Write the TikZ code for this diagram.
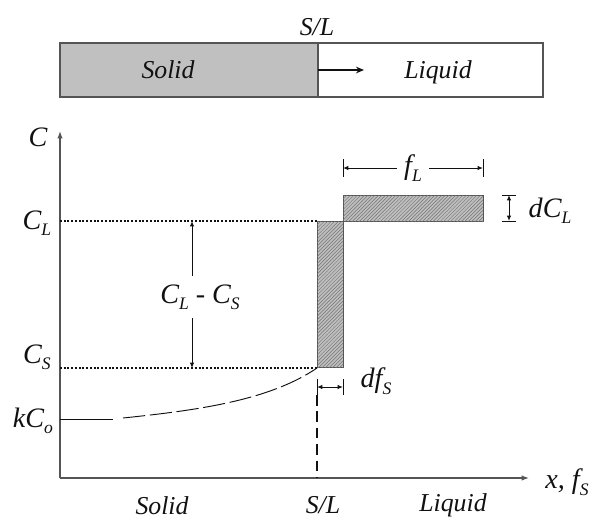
\documentclass[tikz,border=0pt]{standalone}
\usepackage{fontspec}
\setmainfont{Liberation Serif}[ItalicFont=Liberation Serif Italic]
\usetikzlibrary{arrows.meta,patterns,positioning}
\definecolor{ink}{HTML}{111111}
\definecolor{axisgray}{HTML}{555555}
\definecolor{solidgray}{HTML}{C0C0C0}
\tikzset{
  every node/.style={font=\rmfamily\itshape\fontsize{22}{24}\selectfont,text=ink,inner sep=0pt},
  sym/.style={font=\rmfamily\itshape\fontsize{24}{26}\selectfont},
  barline/.style={draw=axisgray,line width=.9pt},
  front/.style={-{Stealth[length=2.4mm,width=2mm]},line width=1.4pt,draw=ink},
  axis/.style={-{Latex[length=2.2mm,width=1.6mm]},line width=1.1pt,draw=axisgray},
  guide/.style={dash pattern=on 1.6pt off 1.6pt,line width=.9pt,draw=ink},
  dimarrow/.style={{Latex[length=1.6mm,width=1.3mm]}-{Latex[length=1.6mm,width=1.3mm]},line width=.8pt,draw=ink},
  onearrow/.style={-{Latex[length=1.6mm,width=1.3mm]},line width=.8pt,draw=ink},
  tickline/.style={line width=.8pt,draw=ink},
  hatch/.style={draw=axisgray,line width=.7pt,fill=black!25,postaction={pattern=north east lines,pattern color=black!55}},
  interface/.style={dash pattern=on 9pt off 5pt,line width=1.4pt,draw=ink},
  profile/.style={line width=.8pt,draw=ink},
}
\newcommand{\lo}[1]{\raisebox{-.5ex}{\fontsize{15}{16}\selectfont #1}}

\begin{document}
\begin{tikzpicture}[x=0.03cm,y=-0.03cm]
\path[use as bounding box,fill=white] (0,0) rectangle (592,521);
% sample bar with moving front
\draw[barline,fill=solidgray] (60,43) rectangle (318,97);
\draw[barline] (318,43) rectangle (543,97);
\node (bartop) at (317,27) {S/L};
\node (barsolid) at (168,70) {Solid};
\node (barliquid) at (438,72) {Liquid};
\coordinate (frontbase) at (318,70);
\coordinate (fronttip) at (364,70);
\draw[front] (frontbase) -- (fronttip);
% axes
\coordinate (origin) at (60,478);
\coordinate (ytip) at (60,131);
\coordinate (xtip) at (529,478);
\draw[axis] (origin) -- (ytip);
\draw[axis] (origin) -- (xtip);
\node[sym] (ylab) at (38,137) {C};
\node[sym] (xlab) at (567,482) {x, f\lo{S}};
\node[sym] (cl) at (37,223) {C\lo{L}};
\node[sym] (cs) at (37,357) {C\lo{S}};
\node[sym] (kco) at (33,421) {kC\lo{o}};
% concentration levels
\coordinate (clend) at (317,221);
\coordinate (csend) at (317,368);
\draw[guide] (origin |- clend) -- (clend);
\draw[guide] (origin |- csend) -- (csend);
% solute balance strips
\draw[hatch] (317,221) rectangle (343,367);
\draw[hatch] (343,195) rectangle (483,221);
% concentration gap
\coordinate (gaptop) at (192,221);
\coordinate (gapbot) at (192,368);
\node[sym,inner ysep=7pt] (gap) at (200,297) {C\lo{L} - C\lo{S}};
\draw[onearrow] (gap.north -| gaptop) -- (gaptop);
\draw[onearrow] (gap.south -| gapbot) -- (gapbot);
% liquid fraction
\coordinate (flleft) at (343,168);
\coordinate (flright) at (483,168);
\node[sym,inner xsep=6pt] (fl) at (413,168) {f\lo{L}};
\draw[onearrow] (fl.west |- flleft) -- (flleft);
\draw[onearrow] (fl.east |- flright) -- (flright);
\draw[tickline] (343,159) -- (343,177);
\draw[tickline] (483,159) -- (483,177);
% liquid enrichment
\coordinate (dctop) at (509,195);
\coordinate (dcbot) at (509,221);
\draw[dimarrow] (dcbot) -- (dctop);
\draw[tickline] (502,195) -- (516,195);
\draw[tickline] (502,221) -- (516,221);
\node[sym] (dcl) at (550,211) {dC\lo{L}};
% solidified increment
\coordinate (dfleft) at (317,387);
\coordinate (dfright) at (343,387);
\draw[dimarrow] (dfleft) -- (dfright);
\draw[tickline] (317,379) -- (317,395);
\draw[tickline] (343,379) -- (343,395);
\node[sym] (dfs) at (376,381) {df\lo{S}};
% interface position
\coordinate (sltop) at (317,395);
\draw[interface] (sltop) -- (sltop |- origin);
% solid profile
\coordinate (kcoend) at (113,419);
\draw[profile] (origin |- kcoend) -- (kcoend);
\draw[profile,dash pattern=on 19pt off 4pt] (123,418) .. controls (200,410) and (270,400) .. (csend);
% region labels
\node (solid) at (162,506) {Solid};
\node (slpos) at (323,505) {S/L};
\node (liquid) at (453,505) {Liquid};
\end{tikzpicture}
\end{document}
